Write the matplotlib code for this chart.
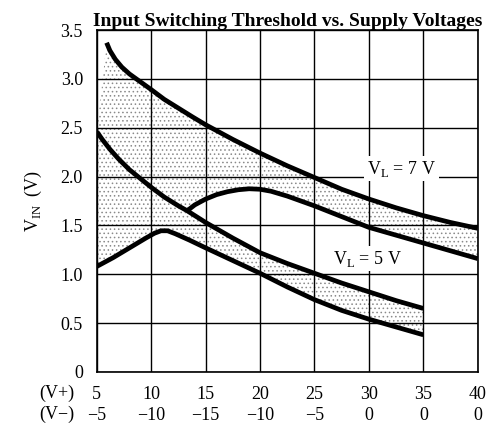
import matplotlib.pyplot as plt
import numpy as np

plt.rcParams['font.family'] = ['Liberation Serif', 'DejaVu Serif']
plt.rcParams['hatch.linewidth'] = 0.6

# supply voltage ticks
vplus = [5, 10, 15, 20, 25, 30, 35, 40]
vminus = ['\u22125', '\u221210', '\u221215', '\u221210', '\u22125', '0', '0', '0']

# V_L = 7 V, upper threshold
x7_hi = [5.9, 6.2, 6.7, 7.3, 8.0, 9, 10, 11.2, 12.5, 13.8, 15, 17.5, 20, 22.5, 25, 27.5, 30, 32.5, 35, 37.5, 40]
y7_hi = [3.37, 3.29, 3.20, 3.12, 3.05, 2.97, 2.89, 2.79, 2.7, 2.61, 2.53, 2.38, 2.24, 2.11, 1.99, 1.87, 1.77, 1.68, 1.60, 1.53, 1.47]

# V_L = 7 V, lower threshold
x7_lo = [13.3, 14, 15, 16, 17, 18, 19, 20, 21, 22.5, 25, 27.5, 30, 32.5, 35, 37.5, 40]
y7_lo = [1.65, 1.71, 1.77, 1.815, 1.845, 1.865, 1.875, 1.87, 1.85, 1.80, 1.70, 1.59, 1.48, 1.40, 1.32, 1.24, 1.16]

# V_L = 5 V, upper threshold
x5_hi = [5, 5.5, 6.2, 7.0, 8.0, 9, 10, 11.2, 12.5, 13.3, 15, 17.5, 20, 22.5, 25, 27.5, 30, 32.5, 35]
y5_hi = [2.46, 2.38, 2.28, 2.18, 2.07, 1.98, 1.89, 1.79, 1.70, 1.65, 1.53, 1.37, 1.22, 1.11, 1.01, 0.91, 0.82, 0.73, 0.65]

# V_L = 5 V, lower threshold
x5_lo = [5, 6.5, 8, 9.5, 10.3, 10.9, 11.5, 12.2, 13.5, 15, 17.5, 20, 22.5, 25, 27.5, 30, 32.5, 35]
y5_lo = [1.08, 1.17, 1.27, 1.37, 1.42, 1.445, 1.445, 1.415, 1.35, 1.27, 1.14, 1.01, 0.87, 0.74, 0.63, 0.54, 0.46, 0.38]

fig = plt.figure(figsize=(4.89, 4.29), dpi=100)
ax = fig.add_axes([0.198, 0.133, 0.779, 0.797])

# shaded bands
n_left = x5_hi.index(13.3)
band7_x = x7_hi + x7_lo[::-1] + x5_hi[:n_left][::-1]
band7_y = y7_hi + y7_lo[::-1] + y5_hi[:n_left][::-1]
ax.fill(band7_x, band7_y, facecolor='white', edgecolor='#8a8a8a', hatch='....', linewidth=0, zorder=1)
band5_x = x5_hi + x5_lo[::-1]
band5_y = y5_hi + y5_lo[::-1]
ax.fill(band5_x, band5_y, facecolor='white', edgecolor='#8a8a8a', hatch='....', linewidth=0, zorder=1)

for xs, ys in [(x7_hi, y7_hi), (x7_lo, y7_lo), (x5_hi, y5_hi), (x5_lo, y5_lo)]:
    ax.plot(xs, ys, color='black', lw=3.4, solid_capstyle='butt', solid_joinstyle='round', zorder=3)

ax.set_xlim(5, 40)
ax.set_ylim(0, 3.5)
ax.set_xticks(vplus)
ax.set_xticklabels([f'{p}\n{m}' for p, m in zip(vplus, vminus)], fontsize=13)
for lab in ax.get_xticklabels():
    lab.set_linespacing(1.3)
ax.set_yticks([0, 0.5, 1.0, 1.5, 2.0, 2.5, 3.0, 3.5])
ax.set_yticklabels(['0', '0.5', '1.0', '1.5', '2.0', '2.5', '3.0', '3.5'], fontsize=13)
ax.tick_params(axis='y', length=0, pad=10)
ax.tick_params(axis='x', length=0, pad=10)
ax.grid(True, color='black', lw=1.0, zorder=2)
ax.set_axisbelow(False)
for sp in ax.spines.values():
    sp.set_linewidth(1.2)

fig.text(0.116, 0.084, '(V+)', fontsize=13, ha='center', va='center')
fig.text(0.116, 0.035, '(V\u2212)', fontsize=13, ha='center', va='center')

ax.set_ylabel('V$_{\\mathregular{IN}}$  (V)', fontsize=13, labelpad=12)
ax.set_title('Input Switching Threshold vs. Supply Voltages', fontsize=14, fontweight='bold', pad=3)

box = dict(facecolor='white', edgecolor='none', pad=2)
ax.text(33.0, 2.08, 'V$_{\\mathregular{L}}$ = 7 V', fontsize=13, ha='center', va='center', bbox=box, zorder=4)
ax.text(29.9, 1.16, 'V$_{\\mathregular{L}}$ = 5 V', fontsize=13, ha='center', va='center', bbox=box, zorder=4)

fig.savefig('out.png', dpi=100)
